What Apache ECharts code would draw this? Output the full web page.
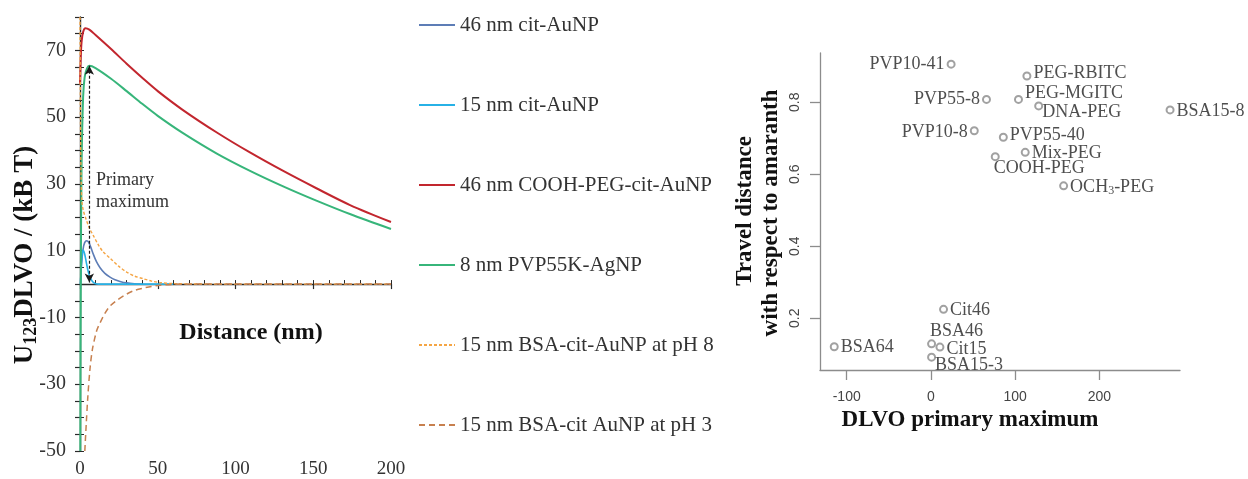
<!DOCTYPE html>
<html>
<head>
<meta charset="utf-8">
<script src="https://cdn.jsdelivr.net/npm/echarts@6/dist/echarts.min.js"></script>
<style>
  html, body { margin: 0; padding: 0; background: #ffffff; }
  #chart { width: 1248px; height: 479px; }
</style>
</head>
<body>
<div id="chart"></div>
<script>
// ---- Left panel: DLVO interaction energy vs. separation distance ----
const profileNames = [
  '46 nm cit-AuNP',
  '15 nm cit-AuNP',
  '46 nm COOH-PEG-cit-AuNP',
  '8 nm PVP55K-AgNP',
  '15 nm BSA-cit-AuNP at pH 8',
  '15 nm BSA-cit AuNP at pH 3'
];

// distance (nm) and energy (kB T) for each particle type
const dCit46 = [0.3, 1, 2, 3, 4.3, 5.5, 7, 8.6, 10.5, 12.9, 16, 19.3, 22.5, 25.7, 30, 35, 40];
const uCit46 = [0, 6, 10.5, 12.4, 13, 12.6, 11, 8.9, 6.8, 4.9, 3.2, 2.1, 1.3, 0.8, 0.35, 0.1, 0];

const dCit15 = [0.3, 0.8, 1.4, 2.1, 3, 3.9, 5, 6.4, 8, 9.6, 12, 20, 30, 40, 50, 60];
const uCit15 = [0, 5, 9, 10.2, 9, 6.9, 4.3, 2.1, 0.8, 0.2, 0, 0, 0, 0, 0, 0];

const dCoohPeg = [0, 0.5, 1, 2, 3.5, 6, 10, 20, 30, 40, 50, 66, 88, 109, 131, 152, 174, 200];
const uCoohPeg = [60, 68, 72.5, 75.5, 76.6, 76.2, 74.6, 70.4, 66.0, 61.8, 57.8, 52.2, 45.4, 39.5, 33.8, 28.7, 23.6, 18.6];

const dPvp55 = [0.2, 0.5, 1, 2, 3, 4.5, 6, 10, 20, 30, 40, 50, 66, 88, 109, 131, 152, 174, 200];
const uPvp55 = [-50, 0, 35, 56, 62, 64.6, 65.4, 64.7, 61.5, 57.8, 54.0, 50.4, 45.3, 39.1, 34.0, 29.2, 25.0, 20.9, 16.5];

const dBsaPh8 = [0, 0.3, 0.7, 1.2, 2.1, 4, 6, 8.6, 12, 15, 19.3, 25, 30, 35, 40.7, 46, 51.4, 60, 70, 80, 100, 130, 160, 200];
const uBsaPh8 = [80, 50, 32, 25, 22.1, 19.3, 16.8, 14.5, 11.6, 9.6, 7.8, 5.3, 3.6, 2.4, 1.6, 0.9, 0.45, 0.15, 0.05, 0, 0, 0, 0, 0];

const dBsaPh3 = [3.1, 4, 5, 6.4, 8, 10.7, 12.9, 16, 19.3, 23.6, 30, 35, 40.7, 46, 51.4, 60, 75, 100, 150, 200];
const uBsaPh3 = [-50, -42, -34, -25.5, -19.5, -14, -11.6, -8.8, -6.6, -4.9, -3.0, -1.9, -1.2, -0.7, -0.35, -0.1, 0, 0, 0, 0];

// primary maximum marker (distance, energy) on the PVP55K-AgNP profile
const primaryMaxAt = [6, 65.4];

const leftYLabels = [-50, -30, -10, 10, 30, 50, 70];

// ---- Right panel: travel distance vs. DLVO primary maximum ----
const sampleNames = ['PVP10-41', 'PEG-RBITC', 'PVP55-8', 'PEG-MGITC', 'DNA-PEG', 'BSA15-8',
  'PVP10-8', 'PVP55-40', 'Mix-PEG', 'COOH-PEG', 'OCH3-PEG', 'Cit46', 'BSA46', 'Cit15', 'BSA15-3', 'BSA64'];
const primaryMax = [24, 114, 66, 104, 128, 284, 51.5, 86, 112, 76.4, 157.6, 15, 0.8, 10.7, 0.8, -114.8];
const travelDistance = [0.906, 0.873, 0.808, 0.808, 0.790, 0.779, 0.721, 0.703, 0.661, 0.649, 0.568,
  0.225, 0.129, 0.120, 0.092, 0.121];

const rightXTicks = [-100, 0, 100, 200];
const rightYTicks = [0.2, 0.4, 0.6, 0.8];

// ---- styling ----
const SERIF = 'Liberation Serif';
const SANS = 'Liberation Sans';
const profileStyles = [
  { color: '#5d7db6', width: 1.6, type: 'solid' },
  { color: '#27b1e6', width: 1.6, type: 'solid' },
  { color: '#c2262e', width: 2, type: 'solid' },
  { color: '#37b57a', width: 2, type: 'solid' },
  { color: '#f5a544', width: 1.4, type: [3, 2] },
  { color: '#c7804f', width: 1.5, type: [6, 4] }
];
const profileData = [
  [dCit46, uCit46], [dCit15, uCit15], [dCoohPeg, uCoohPeg],
  [dPvp55, uPvp55], [dBsaPh8, uBsaPh8], [dBsaPh3, uBsaPh3]
];

// label placement around each scatter point: [side, offset]
const labelPlacement = {
  'PVP10-41': ['left', [0, 0]],
  'PEG-RBITC': ['right', [0, -3]],
  'PVP55-8': ['left', [0, 0]],
  'PEG-MGITC': ['right', [0, -6]],
  'DNA-PEG': ['right', [-3, 6]],
  'BSA15-8': ['right', [0, 1]],
  'PVP10-8': ['left', [0, 2]],
  'PVP55-40': ['right', [0, -2]],
  'Mix-PEG': ['right', [0, 1]],
  'COOH-PEG': ['right', [-8, 12]],
  'OCH3-PEG': ['right', [0, 1]],
  'Cit46': ['right', [0, 1]],
  'BSA46': ['right', [-8, -13]],
  'Cit15': ['right', [0, 2]],
  'BSA15-3': ['right', [-3, 8]],
  'BSA64': ['right', [0, 1]]
};

const profileSeries = profileNames.map((name, i) => {
  const [xs, ys] = profileData[i];
  const st = profileStyles[i];
  const s = {
    name: name,
    type: 'line',
    xAxisIndex: 0,
    yAxisIndex: 0,
    data: xs.map((x, k) => [x, ys[k]]),
    showSymbol: false,
    symbol: 'circle',
    smooth: 0.3,
    clip: true,
    color: st.color,
    lineStyle: { color: st.color, width: st.width, type: st.type },
    z: 3
  };
  if (name === '8 nm PVP55K-AgNP') {
    s.markLine = {
      silent: true,
      symbol: ['arrow', 'arrow'],
      symbolSize: [7, 9],
      label: { show: false },
      lineStyle: { color: '#1a1a1a', width: 1.2, type: [3, 2] },
      data: [[
        { coord: [primaryMaxAt[0], primaryMaxAt[1]] },
        { coord: [primaryMaxAt[0], 0.5] }
      ]]
    };
  }
  return s;
});

const scatterSeries = {
  name: 'samples',
  type: 'scatter',
  xAxisIndex: 2,
  yAxisIndex: 2,
  symbol: 'emptyCircle',
  symbolSize: 7,
  itemStyle: { color: '#8a8a8a', borderColor: '#8a8a8a', borderWidth: 1 },
  data: sampleNames.map((n, i) => {
    const pl = labelPlacement[n];
    return {
      name: n,
      value: [primaryMax[i], travelDistance[i]],
      label: { position: pl[0], offset: pl[1] }
    };
  }),
  label: {
    show: true,
    distance: 2,
    color: '#222',
    fontFamily: SERIF,
    fontSize: 18,
    formatter: p => p.name === 'OCH3-PEG' ? 'OCH{sub|3}-PEG' : p.name,
    rich: {
      sub: { fontFamily: SERIF, fontSize: 12, color: '#222', verticalAlign: 'bottom', padding: [8, 0, 0, 0] }
    }
  }
};

const axisDark = '#2a2a2a';
const rightAxisColor = '#8c8c8c';

const option = {
  animation: false,
  backgroundColor: '#ffffff',
  grid: [
    { left: 80, top: 17, width: 311, height: 455 },
    { left: 820, top: 53, width: 360, height: 317 }
  ],
  legend: {
    data: profileNames,
    orient: 'vertical',
    left: 418,
    top: 14,
    padding: 0,
    itemWidth: 36,
    itemHeight: 14,
    itemGap: 58,
    itemStyle: { opacity: 0 },
    textStyle: { fontFamily: SERIF, fontSize: 21, color: '#333', lineHeight: 22 }
  },
  xAxis: [
    {
      gridIndex: 0, type: 'value', min: 0, max: 200, interval: 50,
      axisLine: { onZero: true, lineStyle: { color: axisDark, width: 1.4 } },
      axisTick: { show: true, length: 5, lineStyle: { color: axisDark, width: 1.2 } },
      axisLabel: { margin: 9, fontFamily: SERIF, fontSize: 19, color: '#333' },
      splitLine: { show: false }
    },
    {
      gridIndex: 0, type: 'value', min: 0, max: 200, interval: 10, position: 'bottom',
      axisLine: { show: false, onZero: true },
      axisTick: { show: true, inside: true, length: 4, lineStyle: { color: axisDark, width: 1 } },
      axisLabel: { show: false },
      splitLine: { show: false }
    },
    {
      gridIndex: 1, type: 'value', min: -131.7, max: 295.8,
      axisLine: { onZero: false, lineStyle: { color: rightAxisColor, width: 1.3 } },
      axisTick: { show: true, length: 10, customValues: rightXTicks, lineStyle: { color: rightAxisColor, width: 1.3 } },
      axisLabel: { margin: 20, customValues: rightXTicks, fontFamily: SANS, fontSize: 14, color: '#444' },
      splitLine: { show: false }
    }
  ],
  yAxis: [
    {
      gridIndex: 0, type: 'value', min: -50, max: 80, interval: 5,
      axisLine: { onZero: false, lineStyle: { color: axisDark, width: 1.4 } },
      axisTick: { show: true, length: 5, lineStyle: { color: axisDark, width: 1.2 } },
      axisLabel: {
        margin: 14, fontFamily: SERIF, fontSize: 20, color: '#333',
        formatter: v => (leftYLabels.indexOf(v) >= 0 ? String(v) : '')
      },
      splitLine: { show: false }
    },
    {
      gridIndex: 0, type: 'value', min: -50, max: 80, interval: 5, position: 'left',
      axisLine: { show: false, onZero: false },
      axisTick: { show: true, inside: true, length: 4, lineStyle: { color: axisDark, width: 1 } },
      axisLabel: { show: false },
      splitLine: { show: false }
    },
    {
      gridIndex: 1, type: 'value', min: 0.0564, max: 0.937,
      axisLine: { onZero: false, lineStyle: { color: rightAxisColor, width: 1.3 } },
      axisTick: { show: true, length: 10, customValues: rightYTicks, lineStyle: { color: rightAxisColor, width: 1.3 } },
      axisLabel: { margin: 18, rotate: 90, customValues: rightYTicks, fontFamily: SANS, fontSize: 14, color: '#444',
        formatter: v => v.toFixed(1) },
      splitLine: { show: false }
    }
  ],
  graphic: [
    {
      type: 'text', x: 25, y: 255, rotation: Math.PI / 2,
      style: {
        text: '{b|U}{s|123}{b|DLVO / (kB T)}',
        align: 'center', verticalAlign: 'middle',
        rich: {
          b: { fontFamily: SERIF, fontSize: 27, fontWeight: 'bold', fill: '#111', lineHeight: 32 },
          s: { fontFamily: SERIF, fontSize: 18, fontWeight: 'bold', fill: '#111', lineHeight: 32, padding: [13, 0, 0, 0] }
        }
      }
    },
    {
      type: 'text', x: 251, y: 333,
      style: { text: 'Distance (nm)', align: 'center', verticalAlign: 'middle',
        fontFamily: SERIF, fontSize: 24, fontWeight: 'bold', fill: '#111' }
    },
    {
      type: 'text', x: 96, y: 191,
      style: { text: 'Primary\nmaximum', align: 'left', verticalAlign: 'middle', lineHeight: 22,
        fontFamily: SERIF, fontSize: 18, fill: '#333' }
    },
    {
      type: 'text', x: 970, y: 420,
      style: { text: 'DLVO primary maximum', align: 'center', verticalAlign: 'middle',
        fontFamily: SERIF, fontSize: 23, fontWeight: 'bold', fill: '#111' }
    },
    {
      type: 'text', x: 745, y: 211, rotation: Math.PI / 2,
      style: { text: 'Travel distance', align: 'center', verticalAlign: 'middle',
        fontFamily: SERIF, fontSize: 23, fontWeight: 'bold', fill: '#111' }
    },
    {
      type: 'text', x: 771, y: 213, rotation: Math.PI / 2,
      style: { text: 'with respect to amaranth', align: 'center', verticalAlign: 'middle',
        fontFamily: SERIF, fontSize: 23, fontWeight: 'bold', fill: '#111' }
    }
  ],
  series: profileSeries.concat([scatterSeries])
};

const chart = echarts.init(document.getElementById('chart'), null, { renderer: 'canvas' });
chart.setOption(option);
</script>
</body>
</html>
